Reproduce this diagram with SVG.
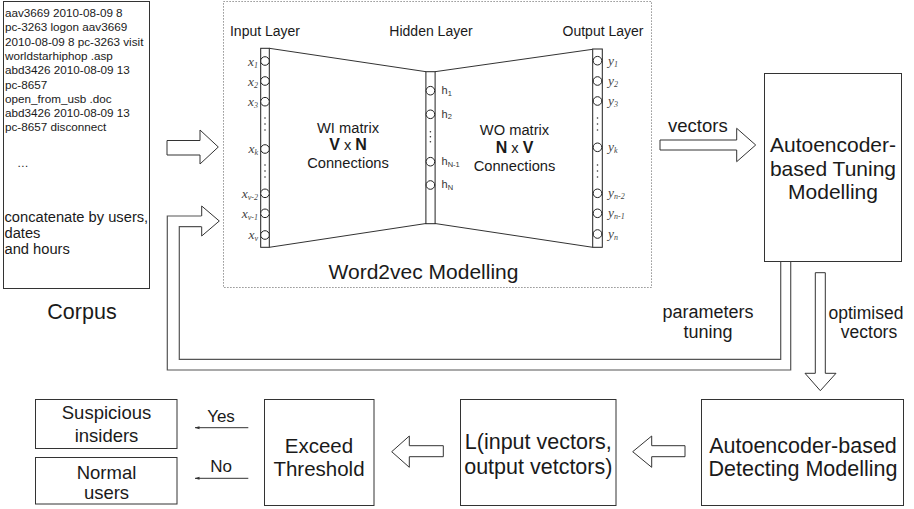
<svg xmlns="http://www.w3.org/2000/svg" width="914" height="509" viewBox="0 0 914 509">
  <style>
    .box{fill:#fff;stroke:#333;stroke-width:1}
    .col{fill:#fff;stroke:#222;stroke-width:1}
    .nrn{fill:#fff;stroke:#222;stroke-width:1}
    .edge{fill:none;stroke:#333;stroke-width:1}
    .loop{fill:none;stroke:#555;stroke-width:1.2}
    .blk{fill:#fff;stroke:#333;stroke-width:1;stroke-linejoin:miter}
    .dot{fill:#333}
    .s{font-family:"Liberation Sans",Arial,Helvetica,sans-serif;fill:#1a1a1a}
    .m{text-anchor:middle}
    .v{font-family:"Liberation Serif","Times New Roman",serif;font-style:italic;fill:#444;font-size:13.5px}
    .hl{font-family:"Liberation Sans",Arial,sans-serif;fill:#333;font-size:11px}
  </style>
  <defs>
    <marker id="tip" viewBox="0 0 10 10" refX="9" refY="5" markerWidth="5" markerHeight="5" orient="auto">
      <path d="M0,2 L10,5 L0,8 z" fill="#333"/>
    </marker>
  </defs>
  <rect width="914" height="509" fill="#fff"/>

  <!-- corpus of log records -->
  <g id="corpus">
    <rect class="box" x="3.5" y="1.5" width="146" height="287"/>
    <g class="s" font-size="11.7">
      <text x="5" y="17">aav3669 2010-08-09 8</text>
      <text x="5" y="31.3">pc-3263 logon aav3669</text>
      <text x="5" y="45.6">2010-08-09 8 pc-3263 visit</text>
      <text x="5" y="59.9">worldstarhiphop .asp</text>
      <text x="5" y="74.2">abd3426 2010-08-09 13</text>
      <text x="5" y="88.5">pc-8657</text>
      <text x="5" y="102.8">open_from_usb .doc</text>
      <text x="5" y="117.1">abd3426 2010-08-09 13</text>
      <text x="5" y="131.4">pc-8657 disconnect</text>
      <text x="17" y="167">…</text>
    </g>
    <g class="s" font-size="14.7">
      <text x="4.5" y="222">concatenate by users,</text>
      <text x="4.5" y="238">dates</text>
      <text x="4.5" y="254">and hours</text>
    </g>
    <text class="s m" x="82" y="319" font-size="21.5">Corpus</text>
  </g>

  <!-- word2vec network -->
  <g id="word2vec">
    <rect x="223.5" y="1.5" width="428" height="286" fill="none" stroke="#777" stroke-width="1" stroke-dasharray="1.2,1.8"/>
    <g class="s m" font-size="14">
      <text x="265" y="36">Input Layer</text>
      <text x="431" y="36">Hidden Layer</text>
      <text x="603" y="36">Output Layer</text>
    </g>
    <!-- weight fans -->
    <path class="edge" d="M269.3,48.3 L426,71.7 M269.3,247.3 L426,223.5 M435,71.7 L592.7,49.3 M435,223.5 L592.7,247.3"/>
    <!-- layer columns -->
    <rect class="col" x="260.7" y="48.3" width="8.6" height="199"/>
    <rect class="col" x="425.9" y="71.7" width="9.2" height="152"/>
    <rect class="col" x="592.7" y="49" width="9.6" height="198.3"/>
    <!-- input neurons -->
    <g class="nrn">
      <circle cx="265" cy="61" r="4.3"/>
      <circle cx="265" cy="81" r="4.3"/>
      <circle cx="265" cy="101.7" r="4.3"/>
      <circle cx="265" cy="149" r="4.3"/>
      <circle cx="265" cy="193.3" r="4.3"/>
      <circle cx="265" cy="213.3" r="4.3"/>
      <circle cx="265" cy="235" r="4.3"/>
    </g>
    <g class="dot">
      <circle cx="265" cy="118" r="0.8"/><circle cx="265" cy="124" r="0.8"/><circle cx="265" cy="130" r="0.8"/>
      <circle cx="265" cy="165" r="0.8"/><circle cx="265" cy="171" r="0.8"/><circle cx="265" cy="177" r="0.8"/>
    </g>
    <g class="v" text-anchor="end">
      <text x="258" y="65.5">x<tspan font-size="8" dy="2">1</tspan></text>
      <text x="258" y="85.5">x<tspan font-size="8" dy="2">2</tspan></text>
      <text x="258" y="106">x<tspan font-size="8" dy="2">3</tspan></text>
      <text x="258" y="153">x<tspan font-size="8" dy="2">k</tspan></text>
      <text x="258" y="197.5">x<tspan font-size="8" dy="2">v-2</tspan></text>
      <text x="258" y="217.5">x<tspan font-size="8" dy="2">v-1</tspan></text>
      <text x="258" y="239">x<tspan font-size="8" dy="2">v</tspan></text>
    </g>
    <!-- hidden neurons -->
    <g class="nrn">
      <circle cx="430.4" cy="90.7" r="4.3"/>
      <circle cx="430.4" cy="114.3" r="4.3"/>
      <circle cx="430.4" cy="161.7" r="4.3"/>
      <circle cx="430.4" cy="185" r="4.3"/>
    </g>
    <g class="dot">
      <circle cx="430.4" cy="131.7" r="0.8"/><circle cx="430.4" cy="136.7" r="0.8"/><circle cx="430.4" cy="141.7" r="0.8"/>
    </g>
    <g class="hl">
      <text x="441.5" y="94">h<tspan font-size="7.5" dy="1.5">1</tspan></text>
      <text x="441.5" y="117.6">h<tspan font-size="7.5" dy="1.5">2</tspan></text>
      <text x="441.5" y="165">h<tspan font-size="7.5" dy="1.5">N-1</tspan></text>
      <text x="441.5" y="188.3">h<tspan font-size="7.5" dy="1.5">N</tspan></text>
    </g>
    <!-- output neurons -->
    <g class="nrn">
      <circle cx="597.5" cy="60.7" r="4.3"/>
      <circle cx="597.5" cy="81" r="4.3"/>
      <circle cx="597.5" cy="101" r="4.3"/>
      <circle cx="597.5" cy="147.3" r="4.3"/>
      <circle cx="597.5" cy="193.3" r="4.3"/>
      <circle cx="597.5" cy="213.3" r="4.3"/>
      <circle cx="597.5" cy="234" r="4.3"/>
    </g>
    <g class="dot">
      <circle cx="597.5" cy="118" r="0.8"/><circle cx="597.5" cy="124" r="0.8"/><circle cx="597.5" cy="130" r="0.8"/>
      <circle cx="597.5" cy="165" r="0.8"/><circle cx="597.5" cy="171" r="0.8"/><circle cx="597.5" cy="177" r="0.8"/>
    </g>
    <g class="v">
      <text x="608" y="64.5">y<tspan font-size="8" dy="2">1</tspan></text>
      <text x="608" y="84.8">y<tspan font-size="8" dy="2">2</tspan></text>
      <text x="608" y="104.8">y<tspan font-size="8" dy="2">3</tspan></text>
      <text x="608" y="151.1">y<tspan font-size="8" dy="2">k</tspan></text>
      <text x="608" y="197.1">y<tspan font-size="8" dy="2">n-2</tspan></text>
      <text x="608" y="217.1">y<tspan font-size="8" dy="2">n-1</tspan></text>
      <text x="608" y="237.8">y<tspan font-size="8" dy="2">n</tspan></text>
    </g>
    <g class="s m" font-size="14.7">
      <text x="348" y="132.7">WI matrix</text>
      <text x="348" y="150"><tspan font-weight="bold" font-size="16">V</tspan> x <tspan font-weight="bold" font-size="16">N</tspan></text>
      <text x="348" y="168.3">Connections</text>
      <text x="514.5" y="135">WO matrix</text>
      <text x="514.5" y="152.7"><tspan font-weight="bold" font-size="16">N</tspan> x <tspan font-weight="bold" font-size="16">V</tspan></text>
      <text x="514.5" y="170.7">Connections</text>
    </g>
    <text class="s m" x="423.5" y="279" font-size="21">Word2vec Modelling</text>
  </g>

  <!-- tuning autoencoder -->
  <g id="tuning">
    <rect class="box" x="764.5" y="73.5" width="137" height="188"/>
    <g class="s m" font-size="21">
      <text x="833" y="152">Autoencoder-</text>
      <text x="833" y="175.5">based Tuning</text>
      <text x="833" y="199">Modelling</text>
    </g>
  </g>

  <!-- detecting autoencoder -->
  <g id="detecting">
    <rect class="box" x="701.5" y="399.5" width="202" height="106"/>
    <g class="s m" font-size="21.5">
      <text x="803" y="452.7">Autoencoder-based</text>
      <text x="803" y="475.5">Detecting Modelling</text>
    </g>
  </g>

  <!-- reconstruction loss -->
  <g id="loss">
    <rect class="box" x="460.5" y="399.5" width="155.5" height="106"/>
    <g class="s m" font-size="21.5">
      <text x="538.3" y="448.5">L(input vectors,</text>
      <text x="538.3" y="473.5">output vetctors)</text>
    </g>
  </g>

  <!-- threshold decision -->
  <g id="threshold">
    <rect class="box" x="264.5" y="399.5" width="109.5" height="106"/>
    <g class="s m" font-size="20.5">
      <text x="319" y="452.7">Exceed</text>
      <text x="319" y="476">Threshold</text>
    </g>
  </g>

  <g id="suspicious">
    <rect class="box" x="35.5" y="399.5" width="141.5" height="49"/>
    <g class="s m" font-size="18.5">
      <text x="106.5" y="418.5">Suspicious</text>
      <text x="106.5" y="441.7">insiders</text>
    </g>
  </g>

  <g id="normal">
    <rect class="box" x="35.5" y="457.5" width="141.5" height="46.5"/>
    <g class="s m" font-size="18.5">
      <text x="106.5" y="479">Normal</text>
      <text x="106.5" y="499.3">users</text>
    </g>
  </g>

  <!-- connectors -->
  <g id="connectors">
    <!-- corpus to word2vec -->
    <polygon class="blk" points="167,140.5 200,140.5 200,130 218.3,147 200,164 200,155 167,155"/>
    <!-- vectors to tuning -->
    <polygon class="blk" points="660,140 736.7,140 736.7,128.3 755.7,145 736.7,161.7 736.7,150 660,150"/>
    <text class="s" x="668" y="131.7" font-size="18.5">vectors</text>
    <!-- parameter tuning feedback loop -->
    <path class="loop" d="M790.7,261.7 V370 H167.3 V216 H201.7"/>
    <path class="loop" d="M780.7,261.7 V359.3 H179.3 V226.7 H201.7"/>
    <polyline class="blk" points="201.7,216 201.7,206 219.3,221 201.7,236 201.7,226.7"/>
    <g class="s m" font-size="18">
      <text x="708" y="318">parameters</text>
      <text x="708" y="338">tuning</text>
    </g>
    <!-- optimised vectors to detecting -->
    <polygon class="blk" points="815.3,272.7 825.3,272.7 825.3,373.3 836,373.3 820.3,390.7 805,373.3 815.3,373.3"/>
    <g class="s m" font-size="17.5">
      <text x="866" y="319">optimised</text>
      <text x="869" y="338">vectors</text>
    </g>
    <!-- detecting to loss -->
    <polygon class="blk" points="685,445.7 651.7,445.7 651.7,436 632.7,451.7 651.7,467.3 651.7,456.7 685,456.7"/>
    <!-- loss to threshold -->
    <polygon class="blk" points="443.3,445.7 409.3,445.7 409.3,436 391.7,451.7 409.3,467.3 409.3,456.7 443.3,456.7"/>
    <!-- decisions -->
    <line class="edge" x1="248.3" y1="427.7" x2="195" y2="427.7" marker-end="url(#tip)"/>
    <line class="edge" x1="248.3" y1="478.3" x2="195" y2="478.3" marker-end="url(#tip)"/>
    <g class="s m" font-size="17">
      <text x="221" y="421.7">Yes</text>
      <text x="221" y="471.7">No</text>
    </g>
  </g>
</svg>
